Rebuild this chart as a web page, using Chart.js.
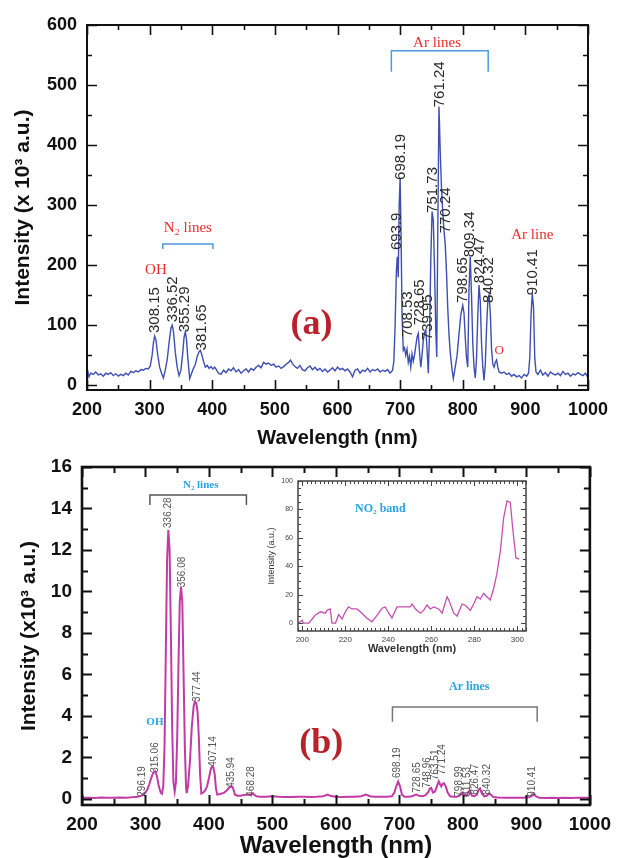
<!DOCTYPE html>
<html>
<head>
<meta charset="utf-8">
<script src="https://cdn.jsdelivr.net/npm/chart.js@4.4.0/dist/chart.umd.min.js"></script>
<style>
  html, body { margin: 0; padding: 0; background: #fff; overflow: hidden; }
  #wrap { position: relative; width: 619px; height: 858px; }
  canvas { position: absolute; }
  #cA { left: 0; top: 0; }
  #cB { left: 0; top: 440px; }
  #cIn { left: 262px; top: 470px; }
</style>
</head>
<body>
<div id="wrap">
  <canvas id="cA" width="619" height="452"></canvas>
  <canvas id="cB" width="619" height="418"></canvas>
  <canvas id="cIn" width="275" height="190"></canvas>
</div>
<script>
// ---- panel (a): spectrum, intensity in 10^3 a.u.
const wavelengthA = [200,203,206,210,214,218,222,226,230,234,238,242,246,250,254,258,262,266,270,274,278,282,286,290,294,298,
  301,304,306,308,310,313,316,319,322,325,328,331,334,336,338,341,344,347,350,353,355,357,359,361,364,367,370,373,376,379,381,383,386,389,
  392,395,398,401,404,407,410,414,418,422,426,430,434,438,442,446,450,454,458,462,466,470,474,478,482,486,490,494,498,
  502,506,510,514,518,522,525,528,532,536,540,544,548,552,556,560,564,568,572,576,580,584,588,592,596,
  600,604,608,612,616,620,624,628,632,636,640,644,648,652,656,660,664,668,672,676,680,684,688,
  690,692,694,695.5,697,698.5,700,701.5,703,705,707,709,711,713,715,717,719,721,723,725,727,729,731,733,735,737,739,741,743,745,
  747,749,751,753,755,757,758.5,760,762,763,764,766,768,770,772,774,776,778,780,783,785,788,791,794,797,800,802,804,806,808,
  810,812,814,816,818,820,822,824,826,828,830,832,834,836,838,840,842,844,846,848,850,852,854,856,858,
  862,866,870,874,878,882,886,890,894,898,902,905,907,909,911,913,915,917,920,924,928,932,936,940,944,948,952,956,960,
  964,968,972,976,980,984,988,992,996,1000];
const intensityA = [30,14,20,18,22,17,19,15,20,18,21,16,19,15,18,16,20,17,23,21,24,22,26,25,28,27,
  32,50,70,82,76,50,30,20,12,25,42,70,95,100,90,55,30,16,25,55,80,89,75,45,11,20,28,35,48,56,58,52,40,30,
  33,28,31,27,30,25,20,18,25,21,27,24,29,22,26,20,24,27,22,28,25,30,33,29,38,35,37,33,35,
  30,32,28,31,35,38,42,36,31,28,33,26,24,29,32,26,30,25,28,23,27,22,25,29,24,
  30,26,28,24,27,22,14,25,27,20,25,23,28,22,26,24,27,22,25,23,26,20,25,
  40,100,190,214,180,300,344,250,120,58,62,50,60,38,48,30,52,40,50,65,80,86,55,30,50,75,88,92,60,20,
  90,210,289,275,190,90,47,240,464,430,390,330,290,258,235,190,130,85,55,25,11,30,50,85,118,133,120,80,45,30,
  160,214,150,70,30,12,45,115,167,140,70,30,8,35,95,140,150,120,60,35,30,38,42,30,22,
  20,22,18,20,15,18,14,16,12,18,15,20,45,115,153,130,45,22,18,25,17,21,15,22,19,17,20,16,23,
  18,20,15,19,17,21,18,16,20,12];
const xTicksA = [200, 300, 400, 500, 600, 700, 800, 900, 1000];
const yTicksA = [0, 100, 200, 300, 400, 500, 600];

const peakTextA = ['308.15','336.52','355.29','381.65','693.9','698.19','708.53','728.65','739.95','751.73','761.24','770.24','798.65','809.34','824.47','840.32','910.41'];
const peakPosA  = [308.6, 337.4, 356.5, 383.7, 695, 701.6, 712.8, 732, 744.7, 752.7, 763.9, 773.5, 800.6, 811.8, 827.8, 842.2, 912.5];
const peakBaseA = [87, 105, 88, 58, 225, 342, 80, 100, 75, 287, 463, 253, 137, 213, 170, 137, 150];

// ---- panel (b)
const wavelengthB = [200,210,220,230,240,250,260,270,280,288,294,297,300,303,306,309,312,315,318,321,324,326,328,330,332,334,336,338,340,342,344,346,
  348,350,352,354,356,358,360,362,364,365,367,370,373,376,378,380,382,384,386,388,391,394,397,400,403,405,407,409,411,413,416,420,424,428,432,435,437,439,441,
  445,450,455,460,465,468,471,475,480,490,500,510,520,530,540,550,560,570,580,587,592,600,610,620,630,640,647,654,660,670,680,688,
  692,695,698,701,704,708,715,720,724,727,730,735,740,745,748,750,753,756,759,762,764,766,768,770,773,776,780,785,790,795,798,800,
  803,806,809,811,814,818,822,825,827,830,834,838,841,844,848,855,865,875,885,895,905,909,912,915,920,930,940,950,960,970,980,990,1000];
const intensityB = [0.05,0.05,0.04,0.06,0.05,0.05,0.06,0.05,0.08,0.1,0.15,0.25,0.3,0.45,0.7,1.0,1.25,1.32,1.1,0.6,0.3,0.25,0.6,2.5,7,11.5,12.96,12,8,3.5,0.8,0.35,
  0.8,3,6.5,9.5,10.23,9.5,6,2.5,0.5,0.27,0.6,1.8,3.5,4.5,4.69,4.6,4.2,3,1.2,0.25,0.3,0.4,0.6,1.0,1.45,1.56,1.5,1.2,0.5,0.2,0.22,0.25,0.3,0.4,0.55,0.6,0.58,0.4,0.2,
  0.15,0.15,0.18,0.2,0.2,0.25,0.2,0.12,0.1,0.1,0.12,0.1,0.09,0.08,0.1,0.1,0.09,0.1,0.12,0.2,0.13,0.1,0.09,0.1,0.1,0.12,0.2,0.12,0.1,0.1,0.1,0.12,
  0.3,0.6,0.83,0.6,0.2,0.1,0.1,0.12,0.18,0.2,0.15,0.12,0.15,0.3,0.5,0.53,0.3,0.35,0.6,0.84,0.7,0.6,0.72,0.75,0.6,0.3,0.12,0.1,0.1,0.15,0.3,0.3,
  0.15,0.15,0.35,0.4,0.15,0.12,0.2,0.45,0.5,0.25,0.12,0.15,0.25,0.2,0.08,0.06,0.05,0.05,0.05,0.05,0.08,0.15,0.25,0.12,0.05,0.04,0.05,0.04,0.05,0.04,0.05,0.05,0.05];
const xTicksB = [200, 300, 400, 500, 600, 700, 800, 900, 1000];
const yTicksB = [0, 2, 4, 6, 8, 10, 12, 14, 16];

const peakTextB = ['296.19','315.06','336.28','356.08','377.44','407.14','435.94','468.28','698.19','728.65','748.96','763.51','771.24','798.99','811.53','826.47','840.32','910.41'];
const peakPosB  = [294.3, 314.8, 335.2, 357.2, 380.8, 406, 435.8, 467.3, 696.9, 728.3, 744, 756.6, 767.6, 794.3, 806.9, 819.5, 838.4, 909];
const peakBaseB = [0.1, 1.25, 13.06, 10.2, 4.67, 1.54, 0.53, 0.1, 1.0, 0.29, 0.53, 0.9, 1.16, 0.1, 0.1, 0.2, 0.2, 0.1];

// ---- inset: NO2 band
const wavelengthIn = [198.3,199.9,200.6,203,206,208.4,210.7,211.5,213,213.8,215.4,216.9,218.5,220,221.5,223.1,225.4,227,230.1,232.4,234.8,237.1,238.6,240.2,241.7,
  244,250.2,251,252.6,254.9,256.4,258,259.5,261.1,263.4,265,267.3,268.1,270.4,272,274.3,275.8,278.1,279.7,281.2,282.8,284.3,285.8,287.4,
  288.9,290.5,292.1,293.6,295.2,296.7,297.8,299.3,300.8];
const intensityIn = [0,2,0,0,5.6,8,7,9,10,0,0,6,3,8,11.4,10,10,8,3.5,1,5.6,10.5,11.4,7,3.7,
  11.4,11.4,13.5,10,7,9,12.8,10,11.4,10,7,18.6,16.3,7,5,13.5,12.6,9,13.5,18.6,17,21,18.6,16.3,
  24,35,51,74,86,85,67,46,45];
const xTicksIn = [200, 220, 240, 260, 280, 300];
const yTicksIn = [0, 20, 40, 60, 80, 100];

const SANS = "'Liberation Sans', Arial, sans-serif";
const SERIF = "'Liberation Serif', 'Times New Roman', serif";

function toPoints(xs, ys) {
  return xs.map((x, i) => ({x: x, y: ys[i]}));
}

// box around the plot with inward major/minor ticks on all four sides
function framePlugin(o) {
  return {
    id: 'frame',
    afterDraw(chart) {
      const {ctx, chartArea: a} = chart;
      const x = chart.scales.x, y = chart.scales.y;
      ctx.save();
      ctx.strokeStyle = o.color;
      ctx.lineWidth = o.tickWidth;
      ctx.beginPath();
      for (let v = Math.ceil(x.min / o.xMinor) * o.xMinor; v <= x.max + 1e-9; v += o.xMinor) {
        const major = Math.abs(v / o.xMajor - Math.round(v / o.xMajor)) < 1e-6;
        const len = major ? o.majorLen : o.minorLen;
        const px = Math.round(x.getPixelForValue(v)) + 0.5;
        ctx.moveTo(px, a.bottom); ctx.lineTo(px, a.bottom - len);
        ctx.moveTo(px, a.top); ctx.lineTo(px, a.top + len);
      }
      for (let v = Math.ceil(y.min / o.yMinor) * o.yMinor; v <= y.max + 1e-9; v += o.yMinor) {
        const major = Math.abs(v / o.yMajor - Math.round(v / o.yMajor)) < 1e-6;
        const len = major ? o.majorLen : o.minorLen;
        const py = Math.round(y.getPixelForValue(v)) + 0.5;
        ctx.moveTo(a.left, py); ctx.lineTo(a.left + len, py);
        ctx.moveTo(a.right, py); ctx.lineTo(a.right - len, py);
      }
      ctx.stroke();
      ctx.lineWidth = o.frameWidth;
      ctx.strokeRect(a.left, a.top, a.right - a.left, a.bottom - a.top);
      ctx.restore();
    }
  };
}

// rotated peak labels, free texts and brackets, placed through the scales
function notesPlugin(o) {
  return {
    id: 'notes',
    afterDatasetsDraw(chart) {
      const {ctx} = chart;
      const x = chart.scales.x, y = chart.scales.y;
      ctx.save();
      ctx.font = o.peakFont;
      ctx.fillStyle = o.peakColor;
      ctx.textAlign = 'left';
      ctx.textBaseline = 'middle';
      (o.peakText || []).forEach((t, i) => {
        ctx.save();
        ctx.translate(x.getPixelForValue(o.peakPos[i]), y.getPixelForValue(o.peakBase[i]));
        ctx.rotate(-Math.PI / 2);
        ctx.fillText(t, 0, 0);
        ctx.restore();
      });
      (o.brackets || []).forEach(b => {
        ctx.strokeStyle = b.color;
        ctx.lineWidth = b.width;
        ctx.beginPath();
        ctx.moveTo(x.getPixelForValue(b.x1), y.getPixelForValue(b.yEnd));
        ctx.lineTo(x.getPixelForValue(b.x1), y.getPixelForValue(b.yTop));
        ctx.lineTo(x.getPixelForValue(b.x2), y.getPixelForValue(b.yTop));
        ctx.lineTo(x.getPixelForValue(b.x2), y.getPixelForValue(b.yEnd));
        ctx.stroke();
      });
      ctx.textAlign = 'center';
      (o.texts || []).forEach(t => {
        ctx.font = t.font;
        ctx.fillStyle = t.color;
        ctx.fillText(t.text, x.getPixelForValue(t.x), y.getPixelForValue(t.y));
      });
      ctx.restore();
    }
  };
}

function makeScales(c) {
  return {
    x: {
      type: 'linear', min: c.xMin, max: c.xMax,
      grid: {display: false, drawTicks: false, tickLength: 0},
      border: {display: false},
      afterBuildTicks: s => { s.ticks = c.xTicks.map(v => ({value: v})); },
      afterFit: s => { s.height = c.xHeight; },
      ticks: {font: c.xTickFont, color: c.tickColor, padding: c.xTickPad, maxRotation: 0, autoSkip: false,
        callback: v => String(v)},
      title: {display: true, text: c.xTitle, font: c.xTitleFont, color: c.titleColor, padding: c.xTitlePad}
    },
    y: {
      type: 'linear', min: c.yMin, max: c.yMax,
      grid: {display: false, drawTicks: false, tickLength: 0},
      border: {display: false},
      afterBuildTicks: s => { s.ticks = c.yTicks.map(v => ({value: v})); },
      afterFit: s => { s.width = c.yWidth; },
      ticks: {font: c.yTickFont, color: c.tickColor, padding: c.yTickPad, autoSkip: false,
        callback: v => String(v)},
      title: {display: true, text: c.yTitle, font: c.yTitleFont, color: c.titleColor, padding: c.yTitlePad}
    }
  };
}

function lineDataset(points, color, width) {
  return {data: points, borderColor: color, borderWidth: width, pointRadius: 0, tension: 0, fill: false};
}

const baseOptions = {
  responsive: false, animation: false, events: [],
  plugins: {legend: {display: false}, tooltip: {enabled: false}}
};

// ---- chart (a)
new Chart(document.getElementById('cA'), {
  type: 'line',
  data: {datasets: [lineDataset(toPoints(wavelengthA, intensityA), '#3e4fb1', 1.4)]},
  options: Object.assign({}, baseOptions, {
    layout: {padding: {top: 25, right: 31, left: 0, bottom: 0}},
    scales: makeScales({
      xMin: 200, xMax: 1000, xTicks: xTicksA, xHeight: 62,
      xTickFont: {family: SANS, size: 18, weight: 'bold'}, xTickPad: 9,
      xTitle: 'Wavelength (nm)', xTitleFont: {family: SANS, size: 20, weight: 'bold', lineHeight: 1}, xTitlePad: {top: 0, bottom: 4},
      yMin: -8, yMax: 600, yTicks: yTicksA, yWidth: 87,
      yTickFont: {family: SANS, size: 18, weight: 'bold'}, yTickPad: 10,
      yTitle: 'Intensity (x 10\u00b3 a.u.)', yTitleFont: {family: SANS, size: 21, weight: 'bold'}, yTitlePad: {top: 11, bottom: 0},
      tickColor: '#111', titleColor: '#111'
    })
  }),
  plugins: [
    notesPlugin({
      peakText: peakTextA, peakPos: peakPosA, peakBase: peakBaseA,
      peakFont: '15px ' + SANS, peakColor: '#2a2a2a',
      brackets: [
        {x1: 321, x2: 401, yTop: 235, yEnd: 227, color: '#4a9be0', width: 1.5},
        {x1: 686, x2: 840.6, yTop: 557, yEnd: 522, color: '#4a9be0', width: 1.5}
      ],
      texts: [
        {text: 'OH', x: 310, y: 192, font: '15px ' + SERIF, color: '#ee2b2b'},
        {text: 'N\u2082 lines', x: 361, y: 262, font: '15px ' + SERIF, color: '#ee2b2b'},
        {text: 'Ar lines', x: 759, y: 570, font: '15px ' + SERIF, color: '#ee2b2b'},
        {text: 'Ar line', x: 911, y: 250, font: '15px ' + SERIF, color: '#ee2b2b'},
        {text: 'O', x: 858, y: 57, font: '13px ' + SERIF, color: '#ee2b2b'},
        {text: '(a)', x: 558.6, y: 100, font: 'bold 36px ' + SERIF, color: '#b8222a'}
      ]
    }),
    framePlugin({color: '#111', tickWidth: 1.6, frameWidth: 2, majorLen: 10, minorLen: 5,
      xMajor: 100, xMinor: 50, yMajor: 100, yMinor: 50})
  ]
});

// ---- chart (b)
new Chart(document.getElementById('cB'), {
  type: 'line',
  data: {datasets: [lineDataset(toPoints(wavelengthB, intensityB), '#c23aa6', 2)]},
  options: Object.assign({}, baseOptions, {
    layout: {padding: {top: 27, right: 28, left: 0, bottom: 0}},
    scales: makeScales({
      xMin: 200, xMax: 1000, xTicks: xTicksB, xHeight: 53,
      xTickFont: {family: SANS, size: 19, weight: 'bold'}, xTickPad: 8,
      xTitle: 'Wavelength (nm)', xTitleFont: {family: SANS, size: 24, weight: 'bold', lineHeight: 1}, xTitlePad: {top: 0, bottom: 0},
      yMin: -0.3, yMax: 16, yTicks: yTicksB, yWidth: 82,
      yTickFont: {family: SANS, size: 19, weight: 'bold'}, yTickPad: 10,
      yTitle: 'Intensity (x10\u00b3 a.u.)', yTitleFont: {family: SANS, size: 21, weight: 'bold'}, yTitlePad: {top: 17, bottom: 0},
      tickColor: '#111', titleColor: '#111'
    })
  }),
  plugins: [
    notesPlugin({
      peakText: peakTextB, peakPos: peakPosB, peakBase: peakBaseB,
      peakFont: '10px ' + SANS, peakColor: '#555',
      brackets: [
        {x1: 307, x2: 459, yTop: 14.65, yEnd: 14.17, color: '#555', width: 1.5},
        {x1: 689, x2: 917, yTop: 4.43, yEnd: 3.71, color: '#777', width: 1.5}
      ],
      texts: [
        {text: 'N\u2082 lines', x: 387, y: 15.13, font: 'bold 11px ' + SERIF, color: '#27a4e3'},
        {text: 'OH', x: 314.8, y: 3.71, font: 'bold 11px ' + SERIF, color: '#27a4e3'},
        {text: 'Ar lines', x: 810, y: 5.4, font: 'bold 12px ' + SERIF, color: '#27a4e3'},
        {text: '(b)', x: 577, y: 2.65, font: 'bold 36px ' + SERIF, color: '#b8222a'}
      ]
    }),
    framePlugin({color: '#111', tickWidth: 2, frameWidth: 2.6, majorLen: 10, minorLen: 6,
      xMajor: 100, xMinor: 50, yMajor: 2, yMinor: 1})
  ]
});

// ---- inset
new Chart(document.getElementById('cIn'), {
  type: 'line',
  data: {datasets: [lineDataset(toPoints(wavelengthIn, intensityIn), '#c64fb2', 1.3)]},
  options: Object.assign({}, baseOptions, {
    layout: {padding: {top: 11, right: 11, left: 0, bottom: 0}},
    scales: makeScales({
      xMin: 198, xMax: 304, xTicks: xTicksIn, xHeight: 29,
      xTickFont: {family: SANS, size: 8}, xTickPad: 4,
      xTitle: 'Wavelength (nm)', xTitleFont: {family: SANS, size: 11, weight: 'bold'}, xTitlePad: {top: 0, bottom: 4},
      yMin: -5.5, yMax: 100, yTicks: yTicksIn, yWidth: 36,
      yTickFont: {family: SANS, size: 7}, yTickPad: 5,
      yTitle: 'Intensity (a.u.)', yTitleFont: {family: SANS, size: 9}, yTitlePad: {top: 4, bottom: 0},
      tickColor: '#444', titleColor: '#333'
    })
  }),
  plugins: [
    notesPlugin({
      texts: [
        {text: 'NO\u2082 band', x: 236.3, y: 80.4, font: 'bold 12px ' + SERIF, color: '#27a4e3'}
      ]
    }),
    framePlugin({color: '#444', tickWidth: 1, frameWidth: 1.5, majorLen: 5, minorLen: 3,
      xMajor: 20, xMinor: 2, yMajor: 20, yMinor: 5})
  ]
});
</script>
</body>
</html>
